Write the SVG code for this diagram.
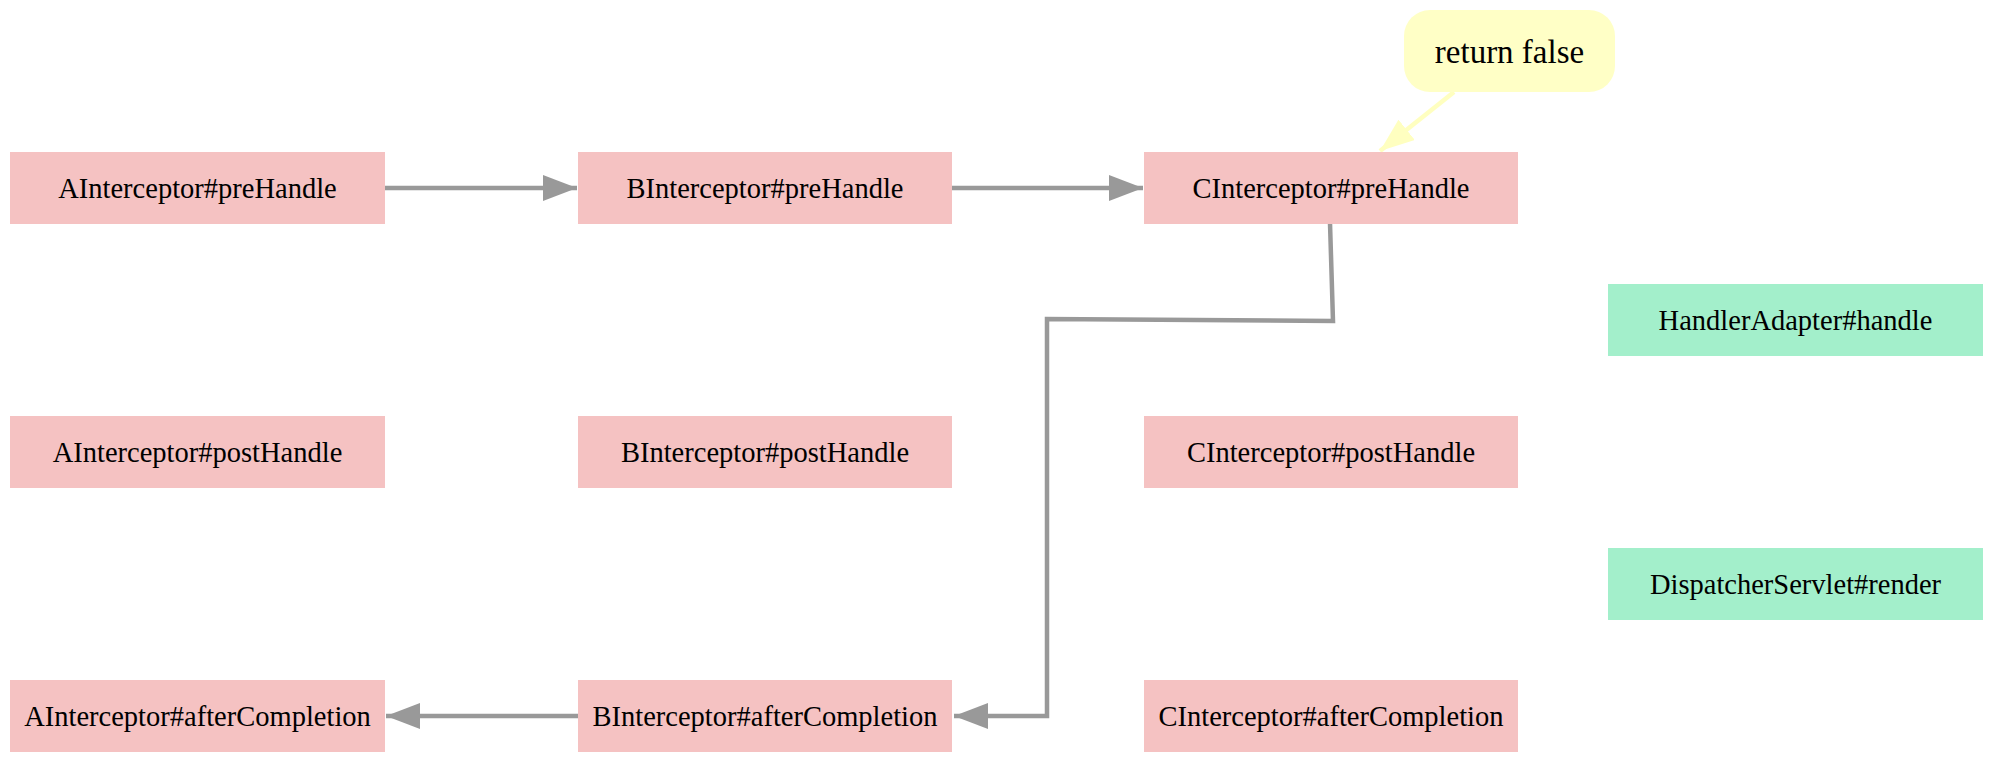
<svg xmlns="http://www.w3.org/2000/svg" width="2000" height="764" viewBox="0 0 2000 764">
<style>
.pink{fill:#f5c2c2;}
.green{fill:#a3efcb;}
.note{fill:#ffffc6;}
text{font-family:"Liberation Serif","Times New Roman",serif;font-size:28.5px;fill:#000;text-anchor:middle;dominant-baseline:central;}
.big{font-size:33px;}
.edge{fill:none;stroke:#999999;stroke-width:4.5;}
.yedge{fill:none;stroke:#ffffc0;stroke-width:4.5;}
</style>
<defs>
<marker id="ag" viewBox="0 0 34 26" refX="34" refY="13" markerWidth="34" markerHeight="26" markerUnits="userSpaceOnUse" orient="auto">
<path d="M0,0 L34,13 L0,26 z" fill="#999999"/>
</marker>
<marker id="ay" viewBox="0 0 34 26" refX="34" refY="13" markerWidth="34" markerHeight="26" markerUnits="userSpaceOnUse" orient="auto">
<path d="M0,0 L34,13 L0,26 z" fill="#ffffc0"/>
</marker>
</defs>
<g id="edges">
<line class="edge" x1="385" y1="188" x2="577" y2="188" marker-end="url(#ag)"/>
<line class="edge" x1="952" y1="188" x2="1143" y2="188" marker-end="url(#ag)"/>
<polyline class="edge" points="1330,223 1333,321 1047,319 1047,716 954,716" marker-end="url(#ag)"/>
<line class="edge" x1="578" y1="716" x2="386" y2="716" marker-end="url(#ag)"/>
<line class="yedge" x1="1454" y1="92" x2="1380" y2="151" marker-end="url(#ay)"/>
</g>
<g id="node-apre"><rect class="pink" x="10" y="152" width="375" height="72"/><text x="197.5" y="188">AInterceptor#preHandle</text></g>
<g id="node-bpre"><rect class="pink" x="578" y="152" width="374" height="72"/><text x="765" y="188">BInterceptor#preHandle</text></g>
<g id="node-cpre"><rect class="pink" x="1144" y="152" width="374" height="72"/><text x="1331" y="188">CInterceptor#preHandle</text></g>
<g id="node-handler"><rect class="green" x="1608" y="284" width="375" height="72"/><text x="1795.5" y="320">HandlerAdapter#handle</text></g>
<g id="node-apost"><rect class="pink" x="10" y="416" width="375" height="72"/><text x="197.5" y="452">AInterceptor#postHandle</text></g>
<g id="node-bpost"><rect class="pink" x="578" y="416" width="374" height="72"/><text x="765" y="452">BInterceptor#postHandle</text></g>
<g id="node-cpost"><rect class="pink" x="1144" y="416" width="374" height="72"/><text x="1331" y="452">CInterceptor#postHandle</text></g>
<g id="node-render"><rect class="green" x="1608" y="548" width="375" height="72"/><text x="1795.5" y="584">DispatcherServlet#render</text></g>
<g id="node-aafter"><rect class="pink" x="10" y="680" width="375" height="72"/><text x="197.5" y="716">AInterceptor#afterCompletion</text></g>
<g id="node-bafter"><rect class="pink" x="578" y="680" width="374" height="72"/><text x="765" y="716">BInterceptor#afterCompletion</text></g>
<g id="node-cafter"><rect class="pink" x="1144" y="680" width="374" height="72"/><text x="1331" y="716">CInterceptor#afterCompletion</text></g>
<g id="node-note"><rect class="note" x="1404" y="10" width="211" height="82" rx="26" ry="26"/><text class="big" x="1509.5" y="52">return false</text></g>
</svg>
